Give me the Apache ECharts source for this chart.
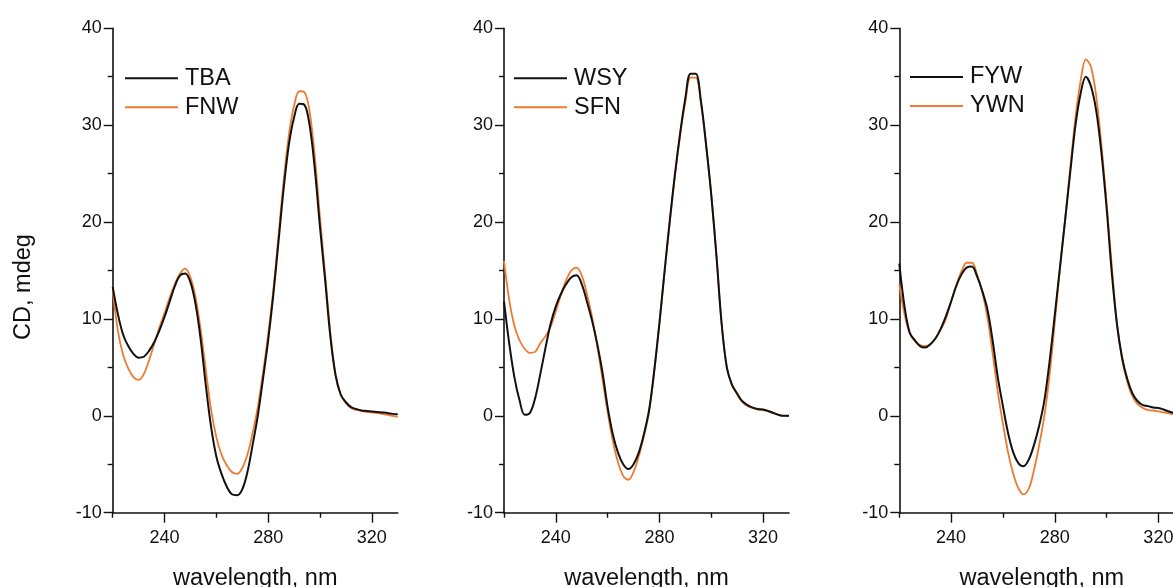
<!DOCTYPE html>
<html><head><meta charset="utf-8">
<script src="https://cdn.jsdelivr.net/npm/echarts@6/dist/echarts.min.js"></script>
<style>html,body{margin:0;padding:0;background:#fff}#c{width:1173px;height:587px}</style>
</head><body><div id="c"></div>
<script>
// wavelength grid (nm)
const wavelengths = [220,222,224,226,228,230,232,234,236,238,240,242,244,246,248,250,252,254,256,258,260,262,264,266,268,270,272,274,276,278,280,282,284,286,288,290,292,294,296,298,300,302,304,306,308,310,312,314,316,318,320,322,324,326,328,330];
// panel 1
const TBA = [13.3,10.5,8.4,7.2,6.4,6.0,6.1,6.7,7.6,8.8,10.2,11.8,13.4,14.5,14.7,13.8,11.5,7.8,3.0,-1.2,-4.2,-6.0,-7.3,-8.1,-8.2,-7.6,-5.8,-3.0,0.0,3.8,7.8,12.5,18.0,23.5,28.0,30.8,32.2,32.1,30.0,25.5,19.5,14.0,8.2,4.2,2.2,1.4,0.9,0.7,0.55,0.5,0.45,0.4,0.35,0.3,0.2,0.15];
const FNW = [13.0,8.8,6.3,4.9,4.0,3.7,4.3,5.7,7.4,9.1,10.6,12.2,13.6,14.7,15.2,14.3,12.2,8.8,4.6,0.6,-2.2,-4.0,-5.1,-5.8,-6.0,-5.4,-4.0,-1.8,0.9,4.4,8.4,13.0,18.6,24.3,29.0,32.0,33.5,33.4,31.4,26.8,20.5,14.6,8.6,4.3,2.2,1.3,0.8,0.6,0.5,0.4,0.35,0.3,0.2,0.1,0.0,-0.1];
// panel 2
const WSY = [11.8,7.5,4.0,1.6,0.1,0.3,1.8,4.3,7.0,9.5,11.3,12.6,13.6,14.3,14.5,13.6,11.8,9.8,7.4,4.5,0.9,-1.9,-3.8,-5.0,-5.5,-5.0,-3.8,-1.9,0.6,4.7,9.6,15.0,20.2,25.0,29.2,32.8,35.3,35.3,32.5,28.0,22.8,16.5,9.5,5.0,3.2,2.3,1.5,1.1,0.85,0.7,0.65,0.5,0.3,0.1,0.0,0.0];
const SFN = [16.0,12.0,9.3,7.8,6.9,6.5,6.6,7.5,8.2,9.2,10.8,12.5,14.0,15.0,15.3,14.5,12.6,10.2,7.2,3.8,0.4,-2.6,-4.8,-6.2,-6.6,-5.8,-4.2,-2.1,0.4,4.6,9.6,14.9,20.0,24.8,29.0,32.4,34.9,34.9,32.3,27.9,22.8,16.5,9.5,5.0,3.2,2.2,1.4,1.0,0.8,0.65,0.6,0.45,0.25,0.1,0.0,0.0];
// panel 3
const FYW = [15.7,11.3,8.6,7.8,7.2,7.05,7.4,8.0,9.0,10.3,11.8,13.4,14.6,15.3,15.4,14.4,12.9,11.0,7.8,4.0,1.0,-1.8,-3.8,-4.9,-5.2,-4.5,-3.0,-1.0,1.6,5.6,10.4,15.3,20.2,25.2,30.0,33.3,35.0,34.0,31.5,27.2,21.5,14.8,9.5,6.0,3.8,2.3,1.5,1.1,1.0,0.85,0.8,0.65,0.45,0.3,0.2,0.1];
const YWN = [13.6,10.5,8.5,7.7,7.3,7.2,7.4,8.0,8.9,10.0,11.8,13.5,14.9,15.8,15.8,14.6,12.8,10.2,6.5,2.5,-0.8,-3.8,-6.0,-7.5,-8.1,-7.5,-5.6,-3.0,0.0,4.2,9.6,15.2,20.3,25.6,30.8,34.6,36.8,36.0,33.0,28.0,22.0,15.5,9.5,5.8,3.5,2.0,1.2,0.8,0.6,0.55,0.45,0.35,0.25,0.15,0.05,0.0];

const majorXTicks = [240, 280, 320];
const minorXTicks = [220, 260, 300];

const panels = [
  {left: 112.7, legendLeft: 124, legendTop: 66.3, names: ['TBA','FNW'], data: [TBA, FNW]},
  {left: 504, legendLeft: 513, legendTop: 66.3, names: ['WSY','SFN'], data: [WSY, SFN]},
  {left: 899.3, legendLeft: 909, legendTop: 65, names: ['FYW','YWN'], data: [FYW, YWN]}
];

const FONT = '"Liberation Sans", Arial, sans-serif';
const BLACK = '#111111';
const ORANGE = '#EE7A30';
const TOP = 28.3, HEIGHT = 484.4, WIDTH = 285;

function pts(vals){ return wavelengths.map((w,i)=>[w, vals[i]]); }

const grid = [], xAxis = [], yAxis = [], series = [], legend = [];
panels.forEach((p, i) => {
  grid.push({left: p.left, top: TOP, width: WIDTH, height: HEIGHT, containLabel: false, outerBoundsMode: 'none'});
  xAxis.push({
    type: 'value', gridIndex: i, min: 220, max: 330,
    name: 'wavelength, nm', nameLocation: 'middle', nameGap: 54,
    nameTextStyle: {fontSize: 23.5, color: BLACK, fontFamily: FONT},
    axisLine: {show: true, onZero: false, lineStyle: {color: BLACK, width: 1.6}},
    axisTick: {show: false},
    axisLabel: {show: true, customValues: majorXTicks, margin: 16, fontSize: 18, color: BLACK, fontFamily: FONT},
    splitLine: {show: false}
  });
  yAxis.push({
    type: 'value', gridIndex: i, min: -10, max: 40, interval: 10,
    axisLine: {show: true, onZero: false, lineStyle: {color: BLACK, width: 1.6}},
    axisTick: {show: true, length: 9, lineStyle: {color: BLACK, width: 1.4}},
    minorTick: {show: true, splitNumber: 2, length: 5, lineStyle: {color: BLACK, width: 1.4}},
    axisLabel: {margin: 11, fontSize: 18, color: BLACK, fontFamily: FONT},
    splitLine: {show: false}
  });
  legend.push({
    data: p.names, left: p.legendLeft, top: p.legendTop, orient: 'vertical', padding: 0,
    itemWidth: 53, itemHeight: 14, itemGap: 5, selectedMode: false,
    itemStyle: {opacity: 0},
    textStyle: {fontSize: 23.5, color: BLACK, fontFamily: FONT, padding: [0,0,0,2]}
  });
  series.push({
    name: p.names[0], type: 'line', xAxisIndex: i, yAxisIndex: i,
    data: pts(p.data[0]), showSymbol: false, symbol: 'none', smooth: 0.35,
    lineStyle: {color: BLACK, width: 2}, itemStyle: {color: BLACK}, z: 3
  });
  series.push({
    name: p.names[1], type: 'line', xAxisIndex: i, yAxisIndex: i,
    data: pts(p.data[1]), showSymbol: false, symbol: 'none', smooth: 0.35,
    lineStyle: {color: ORANGE, width: 1.8}, itemStyle: {color: ORANGE}, z: 2
  });
});
// extra x axes carrying the long (labelled) and short ticks
panels.forEach((p, i) => {
  xAxis.push({
    type: 'value', gridIndex: i, min: 220, max: 330, position: 'bottom', offset: 0,
    axisLine: {show: false, onZero: false},
    axisTick: {show: true, customValues: majorXTicks, length: 10, lineStyle: {color: BLACK, width: 1.4}},
    axisLabel: {show: false},
    splitLine: {show: false}
  });
  xAxis.push({
    type: 'value', gridIndex: i, min: 220, max: 330, position: 'bottom', offset: 0,
    axisLine: {show: false, onZero: false},
    axisTick: {show: true, customValues: minorXTicks, length: 5, lineStyle: {color: BLACK, width: 1.4}},
    axisLabel: {show: false},
    splitLine: {show: false}
  });
});

const chart = echarts.init(document.getElementById('c'), null, {renderer: 'canvas'});
chart.setOption({
  animation: false,
  backgroundColor: '#ffffff',
  grid, xAxis, yAxis, series, legend,
  graphic: [{
    type: 'text', x: 24, y: 287, rotation: Math.PI / 2,
    style: {text: 'CD, mdeg', fontSize: 23.5, fill: BLACK, fontFamily: FONT, align: 'center', verticalAlign: 'middle'}
  }]
});
</script>
</body></html>
